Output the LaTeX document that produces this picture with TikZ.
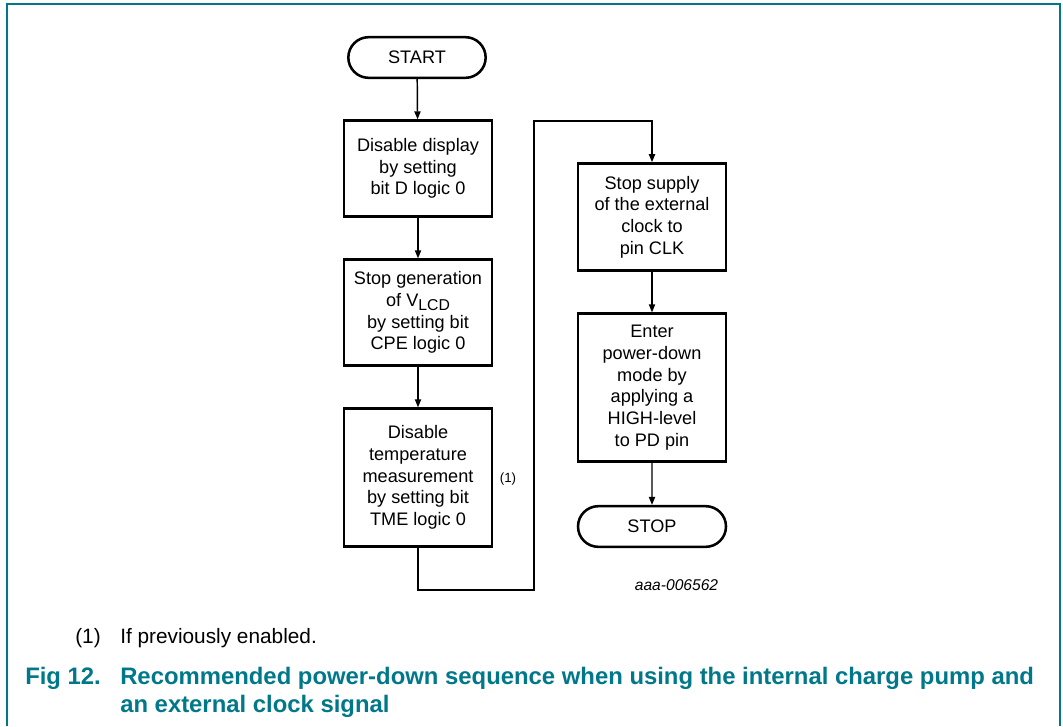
\documentclass[tikz,border=0pt]{standalone}
\usepackage{fontspec}
\setmainfont{Liberation Sans}
\usetikzlibrary{arrows.meta,shapes.misc}
\definecolor{nxpteal}{RGB}{0,120,138}
\begin{document}
\begin{tikzpicture}[x=0.75pt,y=-0.75pt,
  boxtext/.style={font=\fontsize{13.6pt}{16.3pt}\selectfont, align=center, inner sep=0pt},
  stepbox/.style={boxtext, draw, line width=2.2pt, minimum width=111pt},
  term/.style={boxtext, draw, rounded rectangle, line width=1.9pt, minimum height=30.5pt},
  conn/.style={line width=1.1pt, -{Triangle[length=6pt,width=4.6pt]}},
  captext/.style={font=\fontsize{17.9pt}{21pt}\selectfont\bfseries, text=nxpteal, anchor=base west, inner sep=0pt}]
\useasboundingbox (0,0) rectangle (1063,726);
% frame
\draw[nxpteal, line width=1.6pt] (7,726) -- (7,4) -- (1060,4) -- (1060,726);
% nodes
\node[term, minimum width=103pt] (start) at (417,57.5) {START};
\node[stepbox, minimum height=71.5pt] (b1) at (418,168.5) {Disable display\\by setting\\bit D logic 0};
\node[stepbox, minimum height=79pt] (b2) at (418,312.5) {Stop generation\\of V\raisebox{-0.45ex}{\fontsize{11.8pt}{12pt}\selectfont LCD}\\by setting bit\\CPE logic 0};
\node[stepbox, minimum height=103pt] (b3) at (418,477.5) {Disable\\temperature\\measurement\\by setting bit\\TME logic 0};
\node[stepbox, minimum height=80pt] (b4) at (652,217) {Stop supply\\of the external\\clock to\\pin CLK};
\node[stepbox, minimum height=110.5pt] (b5) at (652,387.5) {Enter\\power-down\\mode by\\applying a\\HIGH-level\\to PD pin};
\node[term, minimum width=111pt] (stop) at (652,526.5) {STOP};
% connectors
\coordinate (c1) at (534,590);
\coordinate (c2) at (652,121);
\draw[conn] (start) -- (b1);
\draw[conn] (b1) -- (b2);
\draw[conn] (b2) -- (b3);
\draw[conn] (b3.south) |- (c1) |- (c2) -- (b4.north);
\draw[conn] (b4) -- (b5);
\draw[conn] (b5) -- (stop);
% labels
\node[font=\fontsize{10pt}{12pt}\selectfont, inner sep=0pt] (n1) at (508,479) {(1)};
\node[font=\fontsize{11.7pt}{14pt}\selectfont\itshape, inner sep=0pt] (code) at (676.5,585) {aaa-006562};
% footnote
\node[font=\fontsize{15.6pt}{18pt}\selectfont, anchor=base west, inner sep=0pt] (fn1) at (75,643) {(1)};
\node[font=\fontsize{15.6pt}{18pt}\selectfont, anchor=base west, inner sep=0pt] (fn2) at (120,643) {If previously enabled.};
% caption
\node[captext] (fig) at (25,684) {Fig 12.};
\node[captext] (cap1) at (120,684) {Recommended power-down sequence when using the internal charge pump and};
\node[captext] (cap2) at (120,712) {an external clock signal};
\end{tikzpicture}
\end{document}
